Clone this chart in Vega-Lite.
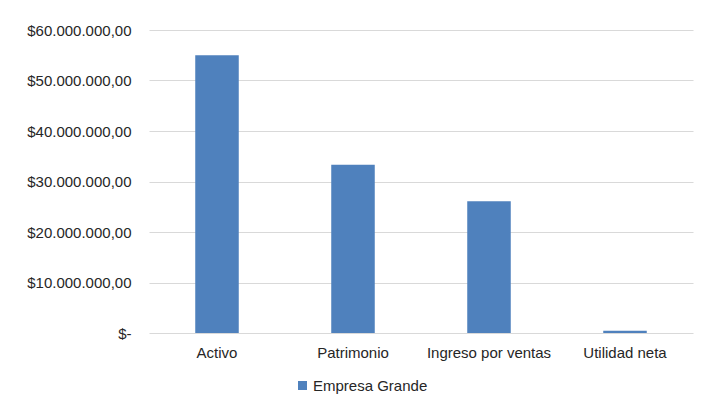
{
  "$schema": "https://vega.github.io/schema/vega-lite/v6.json",
  "autosize": "none",
  "width": 544,
  "height": 303,
  "padding": {"left": 149, "top": 30, "right": 9, "bottom": 70},
  "background": "white",
  "data": {
    "values": [
      {"cuenta": "Activo", "valor": 55000000, "serie": "Empresa Grande"},
      {"cuenta": "Patrimonio", "valor": 33300000, "serie": "Empresa Grande"},
      {"cuenta": "Ingreso por ventas", "valor": 26100000, "serie": "Empresa Grande"},
      {"cuenta": "Utilidad neta", "valor": 450000, "serie": "Empresa Grande"}
    ]
  },
  "mark": {"type": "bar"},
  "encoding": {
    "x": {
      "field": "cuenta",
      "type": "nominal",
      "sort": null,
      "scale": {"paddingInner": 0.68, "paddingOuter": 0.34},
      "axis": {
        "title": null,
        "labelAngle": 0,
        "domain": false,
        "ticks": false,
        "labelFont": "Liberation Sans",
        "labelFontSize": 15,
        "labelColor": "#262626",
        "labelPadding": 12
      }
    },
    "y": {
      "field": "valor",
      "type": "quantitative",
      "scale": {"domain": [0, 60000000], "nice": false},
      "axis": {
        "title": null,
        "values": [0, 10000000, 20000000, 30000000, 40000000, 50000000, 60000000],
        "format": "$,.2f",
        "labelExpr": "datum.value === 0 ? '$-\u2007' : datum.label",
        "domain": false,
        "ticks": false,
        "gridColor": "#d9d9d9",
        "gridWidth": 1,
        "labelFont": "Liberation Sans",
        "labelFontSize": 15,
        "labelColor": "#262626",
        "labelPadding": 18
      }
    },
    "color": {
      "field": "serie",
      "type": "nominal",
      "scale": {"range": ["#4f81bd"]},
      "legend": {
        "title": null,
        "orient": "none",
        "legendX": 146,
        "legendY": 348,
        "symbolType": "square",
        "symbolSize": 81,
        "labelFont": "Liberation Sans",
        "labelFontSize": 15,
        "labelColor": "#262626",
        "labelOffset": 3
      }
    }
  },
  "config": {
    "view": {"stroke": null},
    "locale": {
      "number": {"decimal": ",", "thousands": ".", "grouping": [3], "currency": ["$", ""]}
    }
  }
}
